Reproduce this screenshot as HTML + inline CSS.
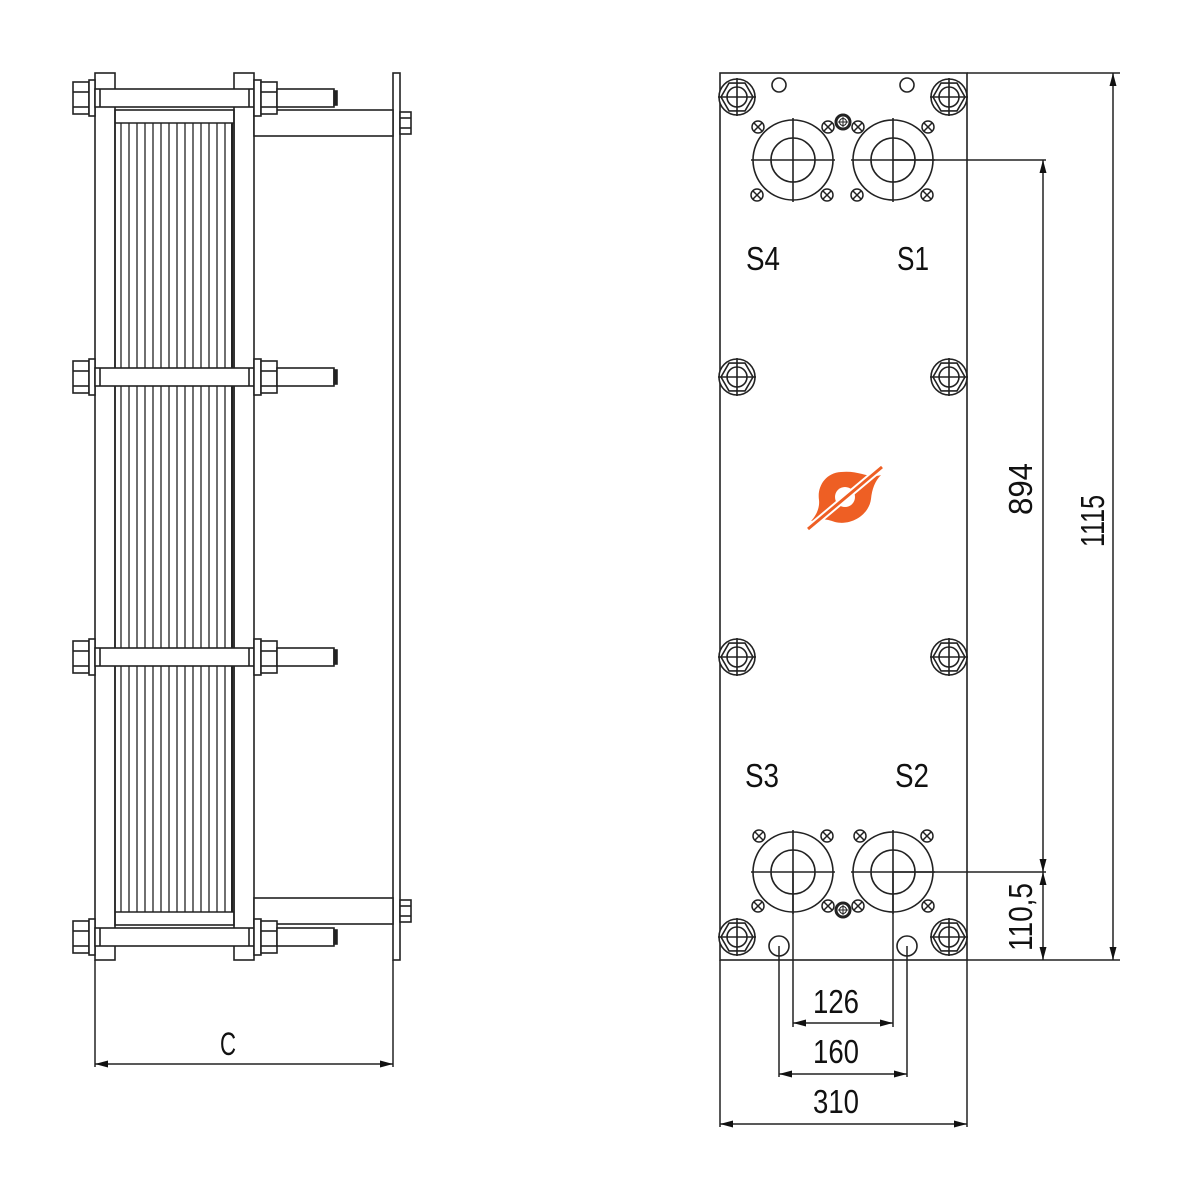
<!DOCTYPE html>
<html><head><meta charset="utf-8"><style>
html,body{margin:0;padding:0;background:#fff}
svg{display:block}
text{font-family:"Liberation Sans",sans-serif;fill:#111}
</style></head><body>
<svg width="1189" height="1200" viewBox="0 0 1189 1200" xmlns="http://www.w3.org/2000/svg">
<defs>
<g id="lb" stroke="#222" stroke-width="1.6" fill="#fff">
  <rect x="73" y="-16" width="16" height="32"/>
  <line x1="73" y1="-6" x2="89" y2="-6"/><line x1="73" y1="9" x2="89" y2="9"/>
  <rect x="89" y="-18" width="6" height="36"/>
  <rect x="95" y="-9" width="159" height="18"/>
  <line x1="100" y1="-9" x2="100" y2="9"/><line x1="249" y1="-9" x2="249" y2="9"/>
  <rect x="254" y="-18" width="7" height="36"/>
  <rect x="261" y="-16" width="16" height="32"/>
  <line x1="261" y1="-6" x2="277" y2="-6"/><line x1="261" y1="9" x2="277" y2="9"/>
  <rect x="277" y="-9" width="57" height="18"/>
  <rect x="334" y="-7" width="3" height="14" fill="#222"/>
</g>
<g id="rb" stroke="#222" stroke-width="1.6" fill="#fff">
  <circle r="18"/>
  <polygon points="16,0 8,13.9 -8,13.9 -16,0 -8,-13.9 8,-13.9" fill="none"/>
  <circle r="10" fill="none"/>
  <line x1="-19" y1="0" x2="19" y2="0"/><line x1="0" y1="-19" x2="0" y2="19"/>
</g>
<g id="xc" stroke="#222" stroke-width="1.5" fill="#fff">
  <circle r="6"/><line x1="-4" y1="-4" x2="4" y2="4"/><line x1="-4" y1="4" x2="4" y2="-4"/>
</g>
<g id="port" stroke="#222" stroke-width="1.6" fill="none">
  <circle r="40"/><circle r="22"/>
  <line x1="-42" y1="0" x2="42" y2="0"/><line x1="0" y1="-42" x2="0" y2="42"/>
</g>
<g id="gb" stroke="#222" fill="none">
  <circle r="7" stroke-width="3"/><circle r="3.5" stroke-width="1"/>
  <line x1="-5" y1="0" x2="5" y2="0" stroke-width="1"/><line x1="0" y1="-5" x2="0" y2="5" stroke-width="1"/>
</g>
<path id="ah" d="M0,0 L-13,-3.5 L-13,3.5 Z" fill="#111"/>
</defs>

<!-- LEFT VIEW -->
<g stroke="#222" stroke-width="1.6" fill="none">
  <rect x="95" y="73" width="20" height="887"/>
  <rect x="234" y="73" width="20" height="887"/>
  <rect x="393" y="73" width="7" height="887"/>
  <rect x="115" y="110" width="119" height="815"/>
  <line x1="115" y1="123" x2="234" y2="123"/>
  <line x1="115" y1="912" x2="234" y2="912"/>
</g>
<g stroke="#222" stroke-width="1.3">
  <line x1="121" y1="123" x2="121" y2="912"/><line x1="129" y1="123" x2="129" y2="912"/>
  <line x1="137" y1="123" x2="137" y2="912"/><line x1="145" y1="123" x2="145" y2="912"/>
  <line x1="153" y1="123" x2="153" y2="912"/><line x1="161" y1="123" x2="161" y2="912"/>
  <line x1="169" y1="123" x2="169" y2="912"/><line x1="177" y1="123" x2="177" y2="912"/>
  <line x1="185" y1="123" x2="185" y2="912"/><line x1="193" y1="123" x2="193" y2="912"/>
  <line x1="201" y1="123" x2="201" y2="912"/><line x1="209" y1="123" x2="209" y2="912"/>
  <line x1="217" y1="123" x2="217" y2="912"/><line x1="225" y1="123" x2="225" y2="912"/>
  <line x1="232" y1="123" x2="232" y2="912" stroke-width="2"/>
</g>
<g stroke="#222" stroke-width="1.6" fill="#fff">
  <rect x="254" y="110" width="139" height="26"/>
  <rect x="254" y="898" width="139" height="26"/>
  <rect x="400" y="112" width="11" height="22"/><line x1="400" y1="118" x2="411" y2="118"/><line x1="400" y1="128" x2="411" y2="128"/>
  <rect x="400" y="900" width="11" height="22"/><line x1="400" y1="906" x2="411" y2="906"/><line x1="400" y1="916" x2="411" y2="916"/>
</g>
<use href="#lb" y="98"/>
<use href="#lb" y="377"/>
<use href="#lb" y="657"/>
<use href="#lb" y="937"/>
<!-- C dim -->
<g stroke="#222" stroke-width="1.5">
  <line x1="95" y1="960" x2="95" y2="1067"/>
  <line x1="393" y1="960" x2="393" y2="1067"/>
  <line x1="95" y1="1064" x2="393" y2="1064"/>
</g>
<use href="#ah" transform="translate(95,1064) rotate(180)"/>
<use href="#ah" transform="translate(393,1064)"/>
<text x="228" y="1055" font-size="32" text-anchor="middle" textLength="16" lengthAdjust="spacingAndGlyphs">C</text>

<!-- RIGHT VIEW -->
<g stroke="#222" stroke-width="1.6" fill="none">
  <rect x="720" y="73" width="247" height="887"/>
  <line x1="967" y1="73" x2="1120" y2="73"/>
  <line x1="967" y1="960" x2="1120" y2="960"/>
  <line x1="893" y1="160" x2="1046" y2="160"/>
  <line x1="893" y1="872" x2="1046" y2="872"/>
  <circle cx="779" cy="85" r="7"/><circle cx="907" cy="85" r="7"/>
  <circle cx="779" cy="946" r="10"/><circle cx="907" cy="946" r="10"/>
</g>
<use href="#rb" x="737" y="97"/><use href="#rb" x="949" y="97"/>
<use href="#rb" x="737" y="377"/><use href="#rb" x="949" y="377"/>
<use href="#rb" x="737" y="657"/><use href="#rb" x="949" y="657"/>
<use href="#rb" x="737" y="937"/><use href="#rb" x="949" y="937"/>
<use href="#port" x="793" y="160"/><use href="#port" x="893" y="160"/>
<use href="#port" x="793" y="872"/><use href="#port" x="893" y="872"/>
<use href="#xc" x="758" y="127"/><use href="#xc" x="828" y="127"/><use href="#xc" x="858" y="127"/><use href="#xc" x="928" y="127"/>
<use href="#xc" x="757" y="195"/><use href="#xc" x="827" y="195"/><use href="#xc" x="857" y="195"/><use href="#xc" x="927" y="195"/>
<use href="#xc" x="759" y="836"/><use href="#xc" x="827" y="836"/><use href="#xc" x="860" y="836"/><use href="#xc" x="927" y="836"/>
<use href="#xc" x="758" y="906"/><use href="#xc" x="828" y="906"/><use href="#xc" x="858" y="906"/><use href="#xc" x="928" y="906"/>
<use href="#gb" x="843" y="122"/><use href="#gb" x="843" y="910"/>

<text x="763" y="270" font-size="33" text-anchor="middle" textLength="34" lengthAdjust="spacingAndGlyphs">S4</text>
<text x="913" y="270" font-size="33" text-anchor="middle" textLength="32" lengthAdjust="spacingAndGlyphs">S1</text>
<text x="762" y="787" font-size="33" text-anchor="middle" textLength="34" lengthAdjust="spacingAndGlyphs">S3</text>
<text x="912" y="787" font-size="33" text-anchor="middle" textLength="34" lengthAdjust="spacingAndGlyphs">S2</text>

<!-- logo -->
<g transform="translate(845,497)">
  <path d="M-4,-25 C-20,-24 -28,-10 -26,3 C-25,12 -30,20 -34,24 C-24,21 -18,22 -10,25 C6,29 24,18 26,2 C27,-8 30,-16 36,-22 C24,-18 14,-27 -4,-25 Z" fill="#ee5f24"/>
  <circle r="10" fill="#fff"/>
  <line x1="-37" y1="32" x2="37" y2="-30" stroke="#fff" stroke-width="7"/>
  <line x1="-37" y1="32" x2="37" y2="-30" stroke="#ee5f24" stroke-width="3"/>
</g>

<!-- vertical dims -->
<g stroke="#222" stroke-width="1.5">
  <line x1="1043" y1="160" x2="1043" y2="960"/>
  <line x1="1113" y1="73" x2="1113" y2="960"/>
</g>
<use href="#ah" transform="translate(1043,160) rotate(-90)"/>
<use href="#ah" transform="translate(1043,872) rotate(90)"/>
<use href="#ah" transform="translate(1043,872) rotate(-90)"/>
<use href="#ah" transform="translate(1043,960) rotate(90)"/>
<use href="#ah" transform="translate(1113,73) rotate(-90)"/>
<use href="#ah" transform="translate(1113,960) rotate(90)"/>
<text transform="translate(1032,489) rotate(-90)" font-size="33" text-anchor="middle" textLength="52" lengthAdjust="spacingAndGlyphs">894</text>
<text transform="translate(1104,521) rotate(-90)" font-size="33" text-anchor="middle" textLength="52" lengthAdjust="spacingAndGlyphs">1115</text>
<text transform="translate(1032,917) rotate(-90)" font-size="33" text-anchor="middle" textLength="68" lengthAdjust="spacingAndGlyphs">110,5</text>

<!-- horizontal dims -->
<g stroke="#222" stroke-width="1.5">
  <line x1="793" y1="872" x2="793" y2="1027"/>
  <line x1="893" y1="872" x2="893" y2="1027"/>
  <line x1="779" y1="946" x2="779" y2="1077"/>
  <line x1="907" y1="946" x2="907" y2="1077"/>
  <line x1="720" y1="960" x2="720" y2="1127"/>
  <line x1="967" y1="960" x2="967" y2="1127"/>
  <line x1="793" y1="1023" x2="893" y2="1023"/>
  <line x1="779" y1="1074" x2="907" y2="1074"/>
  <line x1="720" y1="1124" x2="967" y2="1124"/>
</g>
<use href="#ah" transform="translate(793,1023) rotate(180)"/><use href="#ah" transform="translate(893,1023)"/>
<use href="#ah" transform="translate(779,1074) rotate(180)"/><use href="#ah" transform="translate(907,1074)"/>
<use href="#ah" transform="translate(720,1124) rotate(180)"/><use href="#ah" transform="translate(967,1124)"/>
<text x="836" y="1013" font-size="33" text-anchor="middle" textLength="46" lengthAdjust="spacingAndGlyphs">126</text>
<text x="836" y="1063" font-size="33" text-anchor="middle" textLength="46" lengthAdjust="spacingAndGlyphs">160</text>
<text x="836" y="1113" font-size="33" text-anchor="middle" textLength="46" lengthAdjust="spacingAndGlyphs">310</text>
</svg>
</body></html>
